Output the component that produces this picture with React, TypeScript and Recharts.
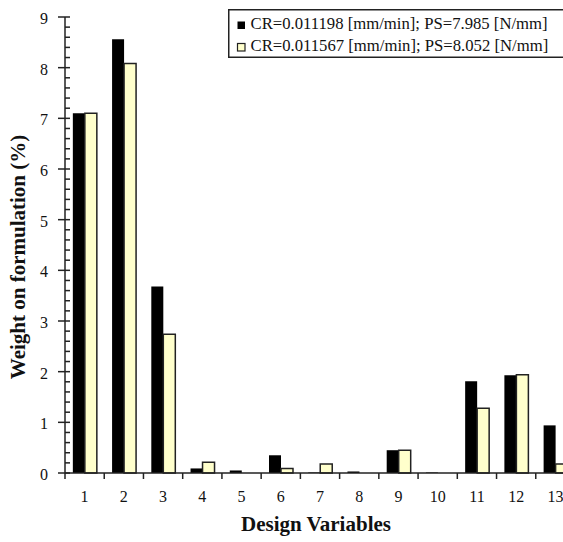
import { BarChart, Bar, XAxis, YAxis, Legend } from "recharts";

// Weight of each design variable on the formulation, for two optimum settings.
const categories = ["1", "2", "3", "4", "5", "6", "7", "8", "9", "10", "11", "12", "13"];
const blackSeries = [7.1, 8.56, 3.68, 0.09, 0.05, 0.35, 0.01, 0.03, 0.45, 0.01, 1.81, 1.93, 0.94];
const yellowSeries = [7.1, 8.08, 2.74, 0.21, 0, 0.09, 0.18, 0, 0.45, 0, 1.28, 1.94, 0.18];
const seriesNames = [
  "CR=0.011198 [mm/min]; PS=7.985 [N/mm]",
  "CR=0.011567 [mm/min]; PS=8.052 [N/mm]",
];
const majorTicks = [0, 1, 2, 3, 4, 5, 6, 7, 8, 9];
const minorSteps = [0.2, 0.4, 0.6, 0.8];

const data = categories.map((name, i) => ({
  name,
  black: blackSeries[i],
  yellow: yellowSeries[i],
}));

const yTicks = majorTicks.flatMap((t) =>
  t === majorTicks[majorTicks.length - 1] ? [t] : [t, ...minorSteps.map((s) => +(t + s).toFixed(1))]
);

const FONT = '"Liberation Serif", "Times New Roman", serif';
const INK = "#222";

const CHART_W = 620;
const CHART_H = 542;
const MARGIN = { top: 17, right: 45, left: 0, bottom: 0 };
const Y_AXIS_W = 65;
const BAND = (CHART_W - MARGIN.left - MARGIN.right - Y_AXIS_W) / categories.length;

function YTick({ x, y, payload }: any) {
  const v = payload.value;
  const major = Math.abs(v - Math.round(v)) < 1e-6;
  return (
    <g>
      <line x1={major ? x - 7 : x} x2={x + 5} y1={y} y2={y} stroke={INK} strokeWidth={1.5} />
      {major && (
        <text x={x - 17} y={y} dy={7} textAnchor="end" fontFamily={FONT} fontSize={16} fill="#111">
          {Math.round(v)}
        </text>
      )}
    </g>
  );
}

function XTick({ x, y, payload }: any) {
  const left = x - BAND / 2;
  return (
    <g>
      <line x1={left} x2={left} y1={y} y2={y + 6} stroke={INK} strokeWidth={1.5} />
      <text x={x} y={y} dy={29} textAnchor="middle" fontFamily={FONT} fontSize={16} fill="#111">
        {payload.value}
      </text>
    </g>
  );
}

function LegendBox() {
  const colors = [
    { fill: "#000000", stroke: "none" },
    { fill: "#FFFFCC", stroke: INK },
  ];
  return (
    <svg width={400} height={50} style={{ display: "block" }}>
      <rect x={0.75} y={0.75} width={420} height={47.5} fill="#fff" stroke={INK} strokeWidth={1.5} />
      {seriesNames.map((name, i) => (
        <g key={name}>
          <rect
            x={9.5}
            y={12.5 + i * 22}
            width={7.5}
            height={7.5}
            fill={colors[i].fill}
            stroke={colors[i].stroke}
            strokeWidth={1.2}
          />
          <text x={22.5} y={20 + i * 22} fontFamily={FONT} fontSize={16.7} fill="#111">
            {name}
          </text>
        </g>
      ))}
    </svg>
  );
}

export default function App() {
  return (
    <div style={{ position: "absolute", left: 0, top: 0, width: 563, height: 542, overflow: "hidden", background: "#fff" }}>
      <BarChart
        width={CHART_W}
        height={CHART_H}
        data={data}
        margin={MARGIN}
        barCategoryGap="20%"
        barGap={0}
      >
        <XAxis
          dataKey="name"
          height={69}
          interval={0}
          tickSize={0}
          tickMargin={0}
          tickLine={false}
          axisLine={{ stroke: INK, strokeWidth: 1.5 }}
          tick={<XTick />}
          label={{
            content: () => (
              <text x={316} y={531} textAnchor="middle" fontFamily={FONT} fontSize={21} fontWeight="bold" fill="#111">
                Design Variables
              </text>
            ),
          }}
        />
        <YAxis
          width={Y_AXIS_W}
          domain={[0, 9]}
          ticks={yTicks}
          interval={0}
          tickSize={0}
          tickMargin={0}
          tickLine={false}
          axisLine={{ stroke: INK, strokeWidth: 1.5 }}
          tick={<YTick />}
          label={{
            content: () => (
              <text
                transform="translate(25,257) rotate(-90)"
                textAnchor="middle"
                fontFamily={FONT}
                fontSize={21}
                fontWeight="bold"
                fill="#111"
              >
                Weight on formulation (%)
              </text>
            ),
          }}
        />
        <Legend
          layout="horizontal"
          verticalAlign="middle"
          align="center"
          content={() => <LegendBox />}
          wrapperStyle={{ top: 9, left: 228, width: 400, height: 50 }}
        />
        <Bar dataKey="black" name={seriesNames[0]} fill="#000000" isAnimationActive={false} />
        <Bar
          dataKey="yellow"
          name={seriesNames[1]}
          fill="#FFFFCC"
          stroke={INK}
          strokeWidth={1.5}
          isAnimationActive={false}
        />
      </BarChart>
    </div>
  );
}
